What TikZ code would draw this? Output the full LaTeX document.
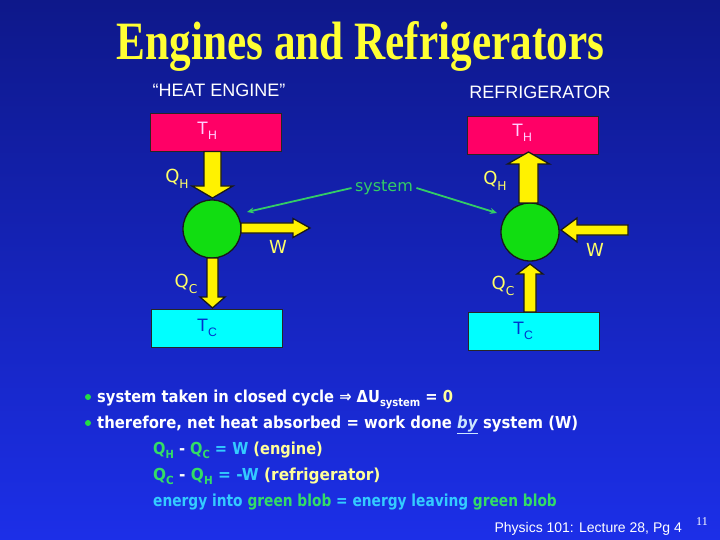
\documentclass[tikz,border=0pt]{standalone}
\usepackage{fontspec}
\setmainfont{Liberation Serif}
\newfontfamily\arialf{Liberation Sans}
\newfontfamily\comicf{DejaVu Sans}
\usetikzlibrary{arrows.meta,calc}
\definecolor{bgtop}{HTML}{0E188A}
\definecolor{bgbot}{HTML}{1C2FE8}
\definecolor{ttlyellow}{HTML}{FFFF33}
\definecolor{hotpink}{HTML}{FF0066}
\definecolor{coldcyan}{HTML}{00FFFF}
\definecolor{blobgreen}{HTML}{11DD11}
\definecolor{sysgreen}{HTML}{33CC66}
\definecolor{lblyellow}{HTML}{FFFF66}
\definecolor{eqgreen}{HTML}{33DD66}
\definecolor{eqcyan}{HTML}{33CCFF}
\definecolor{paleyellow}{HTML}{FFFF99}
\definecolor{thtext}{HTML}{FFD0FF}
\definecolor{tctext}{HTML}{0033CC}
\definecolor{bylight}{HTML}{CCE6FF}
\definecolor{dotgreen}{HTML}{22DD44}
\newcommand\sbs[1]{\raisebox{-0.3em}{\scalebox{0.68}{#1}}}
\newcommand\blockarrow[6]{%
  \begin{scope}[shift={(#1)},rotate=#2]
    \filldraw[blockarr] (0,-#4) -- ({#3-#6},-#4) -- ({#3-#6},-#5) -- (#3,0)
      -- ({#3-#6},#5) -- ({#3-#6},#4) -- (0,#4) -- cycle;
  \end{scope}}
\tikzset{
  blockarr/.style={fill=yellow, draw=black!90, line width=1.3pt, line join=miter},
  reservoir/.style={draw=black!85, line width=1.3pt, minimum width=131pt, minimum height=38pt, inner sep=0pt},
  blob/.style={circle, fill=blobgreen, draw=black!90, line width=1.3pt, minimum size=58pt, inner sep=0pt},
  qlabel/.style={text=lblyellow, font=\comicf\fontsize{18}{18}\selectfont},
  heading/.style={text=white, font=\arialf\fontsize{18}{18}\selectfont},
  bullettext/.style={anchor=base west, inner sep=0pt, text=white, font=\comicf\bfseries\fontsize{16.5}{16.5}\selectfont},
  sysarrow/.style={draw=sysgreen, line width=1.8pt, -{Stealth[length=7pt,width=6pt]}},
}
\begin{document}
\begin{tikzpicture}[x=1pt,y=-1pt]
\useasboundingbox (0,0) rectangle (720,540);
\shade[top color=bgtop, bottom color=bgbot] (0,0) rectangle (720,540);

% title
\node[anchor=base, inner sep=0pt, text=ttlyellow, font=\bfseries\fontsize{54}{54}\selectfont] (title) at (360.5,60) {\scalebox{0.80}[1]{Engines and Refrigerators}};

\node[heading] (heh) at (219,90) {“HEAT ENGINE”};
\node[heading] (refh) at (540,92) {REFRIGERATOR};

% left: heat engine
\node[reservoir, fill=hotpink, anchor=north west] (lth) at (150,113) {};
\node[text=thtext, font=\arialf\fontsize{18}{18}\selectfont] (lthl) at (207,131) {T\sbs{H}};
\node[blob] (lblob) at (212,229) {};
\node[reservoir, fill=coldcyan, anchor=north west] (ltc) at (151,309) {};
\node[text=tctext, font=\arialf\fontsize{18}{18}\selectfont] (ltcl) at (207,328) {T\sbs{C}};
\coordinate (lqhs) at (212.5,151.5);
\coordinate (lws) at (241,228);
\coordinate (lqcs) at (212.5,258);
\blockarrow{lqhs}{-90}{46.5}{8.5}{20.5}{12}
\blockarrow{lws}{0}{69}{5}{9.5}{17}
\blockarrow{lqcs}{-90}{50}{5.5}{12.5}{11}
\node[qlabel] (lqh) at (177,179) {Q\sbs{H}};
\node[qlabel] (lw) at (278,247) {W};
\node[qlabel] (lqc) at (186,284) {Q\sbs{C}};

% right: refrigerator
\node[reservoir, fill=hotpink, anchor=north west] (rth) at (467,116) {};
\node[text=thtext, font=\arialf\fontsize{18}{18}\selectfont] (rthl) at (522,133) {T\sbs{H}};
\node[blob] (rblob) at (530,232) {};
\node[reservoir, fill=coldcyan, anchor=north west] (rtc) at (468,312) {};
\node[text=tctext, font=\arialf\fontsize{18}{18}\selectfont] (rtcl) at (523,331) {T\sbs{C}};
\coordinate (rqhs) at (528.5,203);
\coordinate (rws) at (628,230);
\coordinate (rqcs) at (530,312);
\blockarrow{rqhs}{90}{51}{9.5}{21}{12}
\blockarrow{rws}{180}{67}{5}{12}{16}
\blockarrow{rqcs}{90}{48}{6}{13}{10}
\node[qlabel] (rqh) at (495,181) {Q\sbs{H}};
\node[qlabel] (rw) at (595,250) {W};
\node[qlabel] (rqc) at (503,286) {Q\sbs{C}};

% system label
\node[text=sysgreen, font=\comicf\fontsize{16}{16}\selectfont] (sys) at (384,188) {system};
\coordinate (lsys) at (247,212);
\coordinate (rsys) at (497,213);
\draw[sysarrow] (sys.west) -- (lsys);
\draw[sysarrow] (sys.east) -- (rsys);

% bullets
\fill[dotgreen] (88,397) circle (3);
\fill[dotgreen] (88,423) circle (3);
\node[bullettext] (b1) at (97,402) {\scalebox{0.89}[1]{system taken in closed cycle ⇒ ΔU\sbs{system} = \textcolor{paleyellow}{0}}};
\node[bullettext] (b2) at (97,428) {\scalebox{0.90}[1]{therefore, net heat absorbed = work done \textcolor{bylight}{\underline{\textit{by}}} system (W)}};
\node[bullettext] (b3) at (153,454) {\scalebox{0.885}[1]{\textcolor{eqgreen}{Q\sbs{H}} - \textcolor{eqgreen}{Q\sbs{C}} \textcolor{eqcyan}{= W} \textcolor{paleyellow}{(engine)}}};
\node[bullettext] (b4) at (153,480) {\scalebox{0.93}[1]{\textcolor{eqgreen}{Q\sbs{C}} - \textcolor{eqgreen}{Q\sbs{H}} \textcolor{eqcyan}{= -W} \textcolor{paleyellow}{(refrigerator)}}};
\node[bullettext] (b5) at (153,506) {\scalebox{0.835}[1]{\textcolor{eqcyan}{energy into} \textcolor{eqgreen}{green blob} \textcolor{eqcyan}{= energy leaving} \textcolor{eqgreen}{green blob}}};

% footer
\node[anchor=base west, text=white, font=\arialf\fontsize{14}{14}\selectfont] (foot) at (491,532) {Physics 101: Lecture 28, Pg 4};
\node[text=white, font=\fontsize{12}{12}\selectfont] (pg) at (702,522) {11};
\end{tikzpicture}
\end{document}
